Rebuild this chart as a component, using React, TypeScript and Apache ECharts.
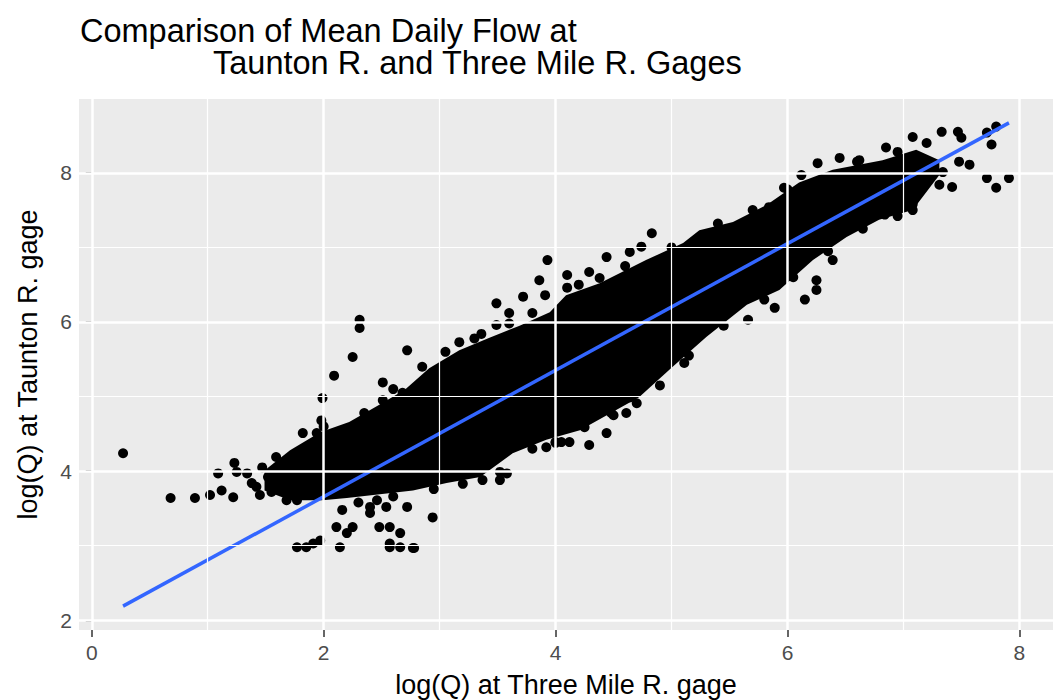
import React, { useEffect, useRef } from "react";
import * as echarts from "echarts";

const FONT = '"Liberation Sans", Arial, Helvetica, sans-serif';

const xTicks = [0, 2, 4, 6, 8];
const yTicks = [2, 4, 6, 8];
const xMinor = [1, 3, 5, 7];
const yMinor = [3, 5, 7];

// Dense core of the point cloud: upper and lower edges
const bandUpperX = [1.49, 1.71, 1.97, 2.22, 2.48, 2.7, 2.91, 3.17, 3.43, 3.69, 3.95, 4.09, 4.38, 4.78, 5.1, 5.24, 5.53, 5.82, 6.1, 6.39, 6.82, 7.11, 7.31];
const bandUpperY = [4.01, 4.28, 4.52, 4.66, 4.89, 5.09, 5.38, 5.62, 5.79, 5.95, 6.13, 6.36, 6.52, 6.83, 7.06, 7.23, 7.34, 7.57, 7.87, 8.04, 8.17, 8.31, 8.17];
const bandLowerX = [1.49, 1.71, 1.99, 2.2, 2.77, 3.06, 3.35, 3.63, 3.92, 4.21, 4.72, 5.01, 5.3, 5.65, 5.93, 6.22, 6.51, 6.79, 7.08, 7.31];
const bandLowerY = [3.74, 3.61, 3.61, 3.64, 3.74, 3.84, 3.92, 4.24, 4.42, 4.55, 4.99, 5.4, 5.8, 6.23, 6.43, 6.83, 7.14, 7.37, 7.5, 7.97];

// Scattered points (outliers and the ragged fringe of the cloud)
const pointX = [
  0.27, 0.68, 0.89, 1.02, 1.12, 1.22, 1.09, 1.23, 1.25, 1.34, 1.42, 1.47, 1.59, 1.68, 1.77, 1.82, 1.94, 1.98, 1.99, 2.09,
  2.25, 2.31, 2.31, 2.51, 2.72, 2.51, 2.68, 2.94,
  1.77, 1.85, 1.97, 2.11, 2.14, 2.2, 2.25, 2.16, 2.4, 2.46, 2.57, 2.57, 2.66, 2.78, 2.72, 2.54, 1.91, 2.4, 2.48, 2.57, 2.66, 2.77,
  3.37, 3.52, 3.58, 3.92, 4.12, 3.52,
  3.17, 3.36, 3.49, 3.49, 3.6, 3.72, 3.8, 3.86, 3.91, 3.93, 4.1, 4.1, 4.29, 4.44, 4.64, 4.74, 4.83, 4.38, 4.47,
  5.11, 4.72, 4.64, 4.7, 4.61, 4.44, 4.29, 4.25, 4.48, 4.05, 4.0,
  7.08, 7.33, 7.47, 7.5, 7.72, 7.8, 7.76, 7.72, 7.8, 7.91, 6.85, 7.2, 6.62, 6.45, 6.26, 6.12, 5.97, 5.84, 5.95, 7.42,
  7.34, 7.57, 7.48, 7.31, 7.08, 7.08, 6.84, 6.72, 6.39, 6.25, 6.25, 6.15, 5.89, 5.66,
  1.38, 1.52, 1.55, 1.62, 1.45,
  2.0, 2.35, 2.6, 2.85, 3.05, 3.3, 3.6, 4.2, 4.6, 5.0, 5.4, 5.7, 6.0, 6.6, 6.95,
  2.3, 2.6, 2.95, 3.2, 3.8, 4.0, 4.5, 4.9, 5.15, 5.45, 5.8, 6.05, 6.35, 6.65, 6.95,
];
const pointY = [
  4.24, 3.64, 3.64, 3.68, 3.74, 3.65, 3.97, 4.11, 3.99, 3.97, 3.79, 4.05, 4.19, 3.61, 3.61, 4.51, 4.51, 4.68, 4.98, 5.28,
  5.53, 6.03, 5.92, 5.19, 5.62, 4.95, 5.05, 3.38,
  2.98, 2.98, 3.07, 3.25, 2.98, 3.17, 3.25, 3.48, 3.44, 3.61, 3.25, 2.98, 2.98, 2.97, 3.52, 3.52, 3.03, 3.52, 3.25, 3.03, 3.17, 2.97,
  3.88, 3.88, 3.97, 4.32, 4.39, 3.99,
  5.73, 5.84, 5.96, 6.25, 6.12, 6.34, 6.12, 6.56, 6.36, 6.83, 6.63, 6.46, 6.67, 6.87, 6.94, 7.01, 7.19, 6.59, 6.5,
  5.45, 5.13, 4.99, 4.91, 4.78, 4.51, 4.35, 4.59, 4.78, 4.39, 4.39,
  8.48, 8.55, 8.55, 8.47, 8.54, 8.62, 8.38, 7.93, 7.8, 7.93, 8.34, 8.4, 8.17, 8.2, 8.13, 7.97, 7.8, 7.54, 7.54, 7.81,
  8.01, 8.11, 8.15, 7.84, 7.5, 7.58, 7.44, 7.4, 6.83, 6.56, 6.43, 6.3, 6.19, 6.03,
  3.84, 3.92, 3.72, 3.88, 3.68,
  4.6, 4.78, 5.1, 5.4, 5.6, 5.78, 5.98, 6.5, 6.75, 7.0, 7.32, 7.5, 7.78, 8.15, 8.28,
  3.58, 3.66, 3.76, 3.83, 4.3, 4.38, 4.75, 5.15, 5.55, 5.95, 6.3, 6.6, 6.95, 7.25, 7.42,
];

// Linear fit line end points
const fitX = [0.27, 7.91];
const fitY = [2.19, 8.67];

const titleLine1 = "Comparison of Mean Daily Flow at";
const titleLine2 = "Taunton R. and Three Mile R. Gages";
const xTitle = "log(Q) at Three Mile R. gage";
const yTitle = "log(Q) at Taunton R. gage";

export default function App() {
  const ref = useRef<HTMLDivElement>(null);
  useEffect(() => {
    if (!ref.current) return;
    const chart = echarts.init(ref.current, undefined, { renderer: "svg" });
    const points = pointX.map((x, i) => [x, pointY[i]]);
    const fit = fitX.map((x, i) => [x, fitY[i]]);
    const gridLines = [
      ...xTicks.map((v) => ({ xAxis: v, lineStyle: { width: 2.5 } })),
      ...xMinor.map((v) => ({ xAxis: v, lineStyle: { width: 1.2 } })),
      ...yTicks.map((v) => ({ yAxis: v, lineStyle: { width: 2.5 } })),
      ...yMinor.map((v) => ({ yAxis: v, lineStyle: { width: 1.2 } })),
    ];
    chart.setOption({
      animation: false,
      backgroundColor: "#ffffff",
      grid: {
        left: 79,
        right: 4,
        top: 99,
        bottom: 70,
        show: true,
        backgroundColor: "#EBEBEB",
        borderWidth: 0,
        containLabel: false,
        outerBoundsMode: "none",
      },
      xAxis: {
        type: "value",
        min: -0.11,
        max: 8.29,
        axisLine: { show: false },
        splitLine: { show: false },
        axisTick: { show: true, customValues: xTicks, length: 7, lineStyle: { color: "#333333", width: 1.5 } },
        axisLabel: { customValues: xTicks, color: "#4D4D4D", fontSize: 21, margin: 12, fontFamily: FONT },
        name: xTitle,
        nameLocation: "middle",
        nameGap: 41,
        nameTextStyle: { fontSize: 27, color: "#000000", fontFamily: FONT },
      },
      yAxis: {
        type: "value",
        min: 1.87,
        max: 8.99,
        axisLine: { show: false },
        splitLine: { show: false },
        axisTick: { show: true, customValues: yTicks, length: 6, lineStyle: { color: "#333333", width: 1.5 } },
        axisLabel: { customValues: yTicks, color: "#4D4D4D", fontSize: 21, margin: 7, fontFamily: FONT },
        name: yTitle,
        nameLocation: "middle",
        nameGap: 38,
        nameTextStyle: { fontSize: 27, color: "#000000", fontFamily: FONT },
      },
      graphic: [
        { type: "text", left: 80, top: 14, style: { text: titleLine1, font: `32.5px ${FONT}`, fill: "#000000" } },
        { type: "text", left: 213, top: 46, style: { text: titleLine2, font: `32.5px ${FONT}`, fill: "#000000" } },
      ],
      series: [
        {
          type: "line",
          data: [],
          z: 1,
          silent: true,
          markLine: {
            silent: true,
            symbol: ["none", "none"],
            label: { show: false },
            lineStyle: { color: "#ffffff", type: "solid" },
            emphasis: { disabled: true },
            data: gridLines,
          },
        },
        {
          type: "custom",
          z: 2,
          silent: true,
          data: [[bandUpperX[0], bandUpperY[0]]],
          renderItem: (params: any, api: any) => {
            const pts: number[][] = [];
            for (let i = 0; i < bandUpperX.length; i++) pts.push(api.coord([bandUpperX[i], bandUpperY[i]]));
            for (let i = bandLowerX.length - 1; i >= 0; i--) pts.push(api.coord([bandLowerX[i], bandLowerY[i]]));
            return { type: "polygon", shape: { points: pts }, style: { fill: "#000000" } };
          },
        },
        {
          type: "scatter",
          z: 3,
          data: points,
          symbolSize: 10,
          itemStyle: { color: "#000000", opacity: 1 },
        },
        {
          type: "line",
          z: 4,
          data: fit,
          symbol: "none",
          lineStyle: { color: "#3366FF", width: 3.5 },
        },
      ],
    });
    return () => chart.dispose();
  }, []);
  return <div ref={ref} style={{ position: "fixed", left: 0, top: 0, width: 1057, height: 700 }} />;
}
